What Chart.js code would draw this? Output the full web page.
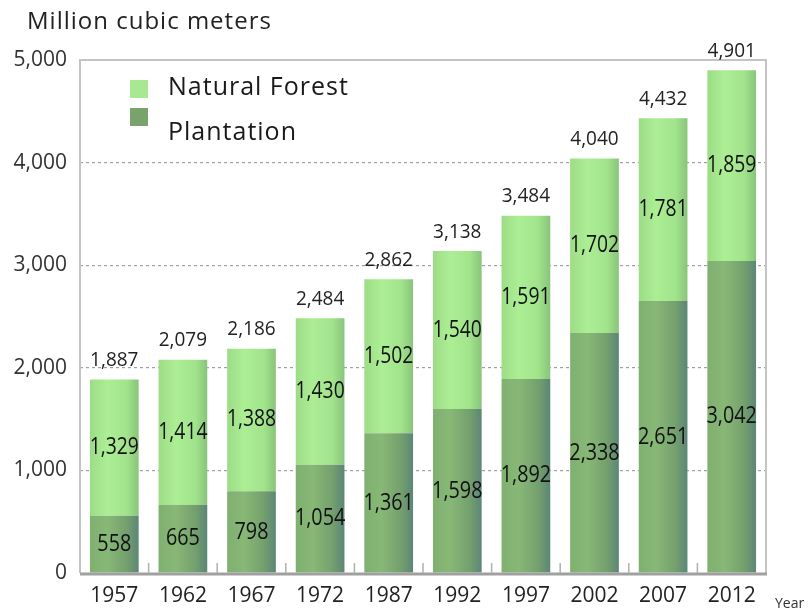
<!DOCTYPE html>
<html>
<head>
<meta charset="utf-8">
<script src="https://cdn.jsdelivr.net/npm/chart.js@4"></script>
<style>
  html, body { margin: 0; padding: 0; background: #fff; }
  #wrap { width: 812px; height: 615px; position: relative; }
</style>
</head>
<body>
<div id="wrap"><canvas id="forestChart"></canvas></div>
<script>
// 데이터
const years = ['1957', '1962', '1967', '1972', '1987', '1992', '1997', '2002', '2007', '2012'];
const plantation = [558, 665, 798, 1054, 1361, 1598, 1892, 2338, 2651, 3042];
const naturalForest = [1329, 1414, 1388, 1430, 1502, 1540, 1591, 1702, 1781, 1859];
const totals = [1887, 2079, 2186, 2484, 2862, 3138, 3484, 4040, 4432, 4901];
const yTicks = [0, 1000, 2000, 3000, 4000, 5000];

const FONT = '"Open Sans", "Noto Sans", sans-serif';
const fmt = v => v.toLocaleString('en-US');

// 막대 가로 그라데이션
function barGradient(ctx, stops) {
    const chart = ctx.chart;
    if (!chart.chartArea || ctx.dataIndex === undefined) return stops[1];
    const xs = chart.scales.x;
    const cx = xs.getPixelForValue(ctx.dataIndex);
    const w = (xs.width / years.length) * 0.71;
    const g = chart.ctx.createLinearGradient(cx - w / 2, 0, cx + w / 2, 0);
    g.addColorStop(0, stops[0]);
    g.addColorStop(0.35, stops[1]);
    g.addColorStop(0.75, stops[2]);
    g.addColorStop(1, stops[3]);
    return g;
}

// 좁게 눌린 글자
function squeezed(ctx, text, x, y, sx) {
    ctx.save();
    ctx.translate(x, y);
    ctx.scale(sx, 1);
    ctx.fillText(text, 0, 0);
    ctx.restore();
}

// 프레임, 눈금, 레이블, 범례
const decorPlugin = {
    id: 'decor',
    beforeDatasetsDraw(chart) {
        const { ctx, chartArea: a } = chart;
        ctx.save();
        ctx.strokeStyle = '#c4c4c4';
        ctx.lineWidth = 2;
        ctx.beginPath();
        ctx.moveTo(a.left, a.bottom);
        ctx.lineTo(a.left, a.top);
        ctx.lineTo(a.right, a.top);
        ctx.lineTo(a.right, a.bottom);
        ctx.stroke();
        ctx.restore();
    },
    afterDatasetsDraw(chart) {
        const { ctx, chartArea: a, scales } = chart;
        const xs = scales.x, ys = scales.y;
        ctx.save();

        // x축 선과 안쪽 눈금
        ctx.strokeStyle = '#a0a0a0';
        ctx.lineWidth = 3;
        ctx.beginPath();
        ctx.moveTo(a.left, a.bottom + 1);
        ctx.lineTo(a.right + 1, a.bottom + 1);
        ctx.stroke();
        ctx.lineWidth = 1.5;
        ctx.strokeStyle = '#b0b0b0';
        const step = xs.width / years.length;
        for (let i = 1; i < years.length; i++) {
            const x = a.left + step * i;
            ctx.beginPath();
            ctx.moveTo(x, a.bottom);
            ctx.lineTo(x, a.bottom - 10);
            ctx.stroke();
        }

        // 막대 안 값
        ctx.fillStyle = '#111';
        ctx.textAlign = 'center';
        ctx.textBaseline = 'middle';
        ctx.font = '23px ' + FONT;
        years.forEach((y, i) => {
            const x = xs.getPixelForValue(i);
            const p = plantation[i], n = naturalForest[i];
            squeezed(ctx, fmt(p), x, ys.getPixelForValue(p / 2), 0.86);
            squeezed(ctx, fmt(n), x, ys.getPixelForValue(p + n / 2), 0.84);
        });
        // 합계
        ctx.fillStyle = '#222';
        ctx.font = '20px ' + FONT;
        years.forEach((y, i) => {
            const x = xs.getPixelForValue(i);
            squeezed(ctx, fmt(totals[i]), x, ys.getPixelForValue(plantation[i] + naturalForest[i]) - 19, 0.95);
        });

        // 범례
        ctx.fillStyle = '#a8e890';
        ctx.fillRect(130, 80, 18, 18);
        ctx.fillStyle = '#78a46c';
        ctx.fillRect(130, 108, 18, 18);
        ctx.fillStyle = '#1a1a1a';
        ctx.textAlign = 'left';
        ctx.letterSpacing = '1px';
        ctx.font = '25px ' + FONT;
        ctx.fillText('Natural Forest', 168, 88);
        ctx.fillText('Plantation', 168, 133);

        // 제목과 단위
        ctx.fillStyle = '#222';
        ctx.font = '24px ' + FONT;
        ctx.fillText('Million cubic meters', 27, 22);
        ctx.letterSpacing = '0px';
        ctx.font = '14px ' + FONT;
        ctx.fillStyle = '#333';
        ctx.fillText('Year', 775, 604);
        ctx.restore();
    }
};

new Chart(document.getElementById('forestChart'), {
    type: 'bar',
    data: {
        labels: years,
        datasets: [
            {
                label: 'Plantation',
                data: plantation,
                backgroundColor: c => barGradient(c, ['#80b070', '#88b876', '#74a06e', '#5c8676']),
                barPercentage: 0.71,
                categoryPercentage: 1
            },
            {
                label: 'Natural Forest',
                data: naturalForest,
                backgroundColor: c => barGradient(c, ['#9cdc86', '#acee94', '#a2e48c', '#88c47a']),
                barPercentage: 0.71,
                categoryPercentage: 1
            }
        ]
    },
    plugins: [decorPlugin],
    options: {
        responsive: true,
        maintainAspectRatio: false,
        animation: false,
        layout: { padding: { top: 60, right: 46, left: 0, bottom: 0 } },
        plugins: {
            legend: { display: false },
            tooltip: { enabled: false }
        },
        scales: {
            x: {
                stacked: true,
                grid: { display: false },
                border: { display: false },
                ticks: {
                    color: '#222',
                    font: { family: FONT, size: 21 },
                    padding: 2,
                    maxRotation: 0
                },
                afterFit: s => { s.height = 42; }
            },
            y: {
                stacked: true,
                min: 0,
                max: 5000,
                afterBuildTicks: s => { s.ticks = yTicks.map(v => ({ value: v })); },
                border: { display: false, dash: [3, 3] },
                grid: {
                    color: c => (c.tick.value === 0 || c.tick.value === 5000) ? 'rgba(0,0,0,0)' : '#a0a0a0',
                    lineWidth: 1.2,
                    drawTicks: false
                },
                ticks: {
                    color: '#333',
                    font: { family: FONT, size: 21 },
                    padding: 13,
                    callback: v => fmt(v)
                },
                afterFit: s => { s.width = 80; }
            }
        }
    }
});
</script>
</body>
</html>
